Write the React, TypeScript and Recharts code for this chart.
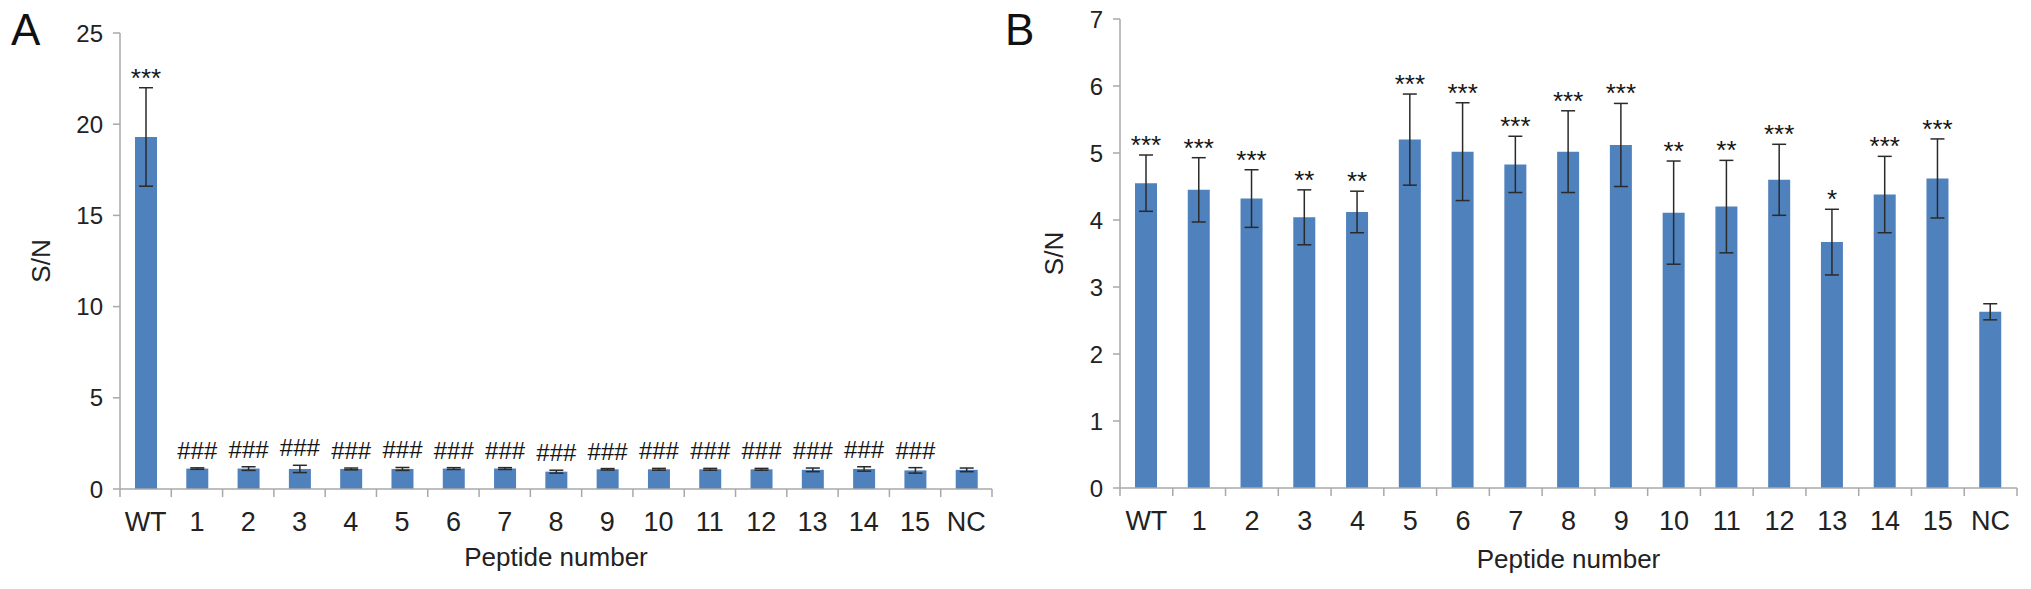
import React from 'react';
import { BarChart, Bar, XAxis, YAxis, ErrorBar, LabelList, Label } from 'recharts';

// ---------- data ----------
const categories = ['WT', '1', '2', '3', '4', '5', '6', '7', '8', '9', '10', '11', '12', '13', '14', '15', 'NC'];

const aMeans = [19.3, 1.12, 1.12, 1.1, 1.1, 1.1, 1.12, 1.12, 0.95, 1.08, 1.08, 1.08, 1.08, 1.05, 1.1, 1.02, 1.05];
const aErrors = [2.7, 0.04, 0.1, 0.2, 0.05, 0.08, 0.05, 0.05, 0.08, 0.04, 0.05, 0.05, 0.05, 0.1, 0.12, 0.15, 0.1];
const aMarks = ['***', '###', '###', '###', '###', '###', '###', '###', '###', '###', '###', '###', '###', '###', '###', '###', ''];
const aTicks = [0, 5, 10, 15, 20, 25];

const bMeans = [4.55, 4.45, 4.32, 4.04, 4.12, 5.2, 5.02, 4.83, 5.02, 5.12, 4.11, 4.2, 4.6, 3.67, 4.38, 4.62, 2.63];
const bErrors = [0.42, 0.48, 0.43, 0.41, 0.31, 0.68, 0.73, 0.42, 0.61, 0.62, 0.77, 0.69, 0.53, 0.49, 0.57, 0.59, 0.12];
const bMarks = ['***', '***', '***', '**', '**', '***', '***', '***', '***', '***', '**', '**', '***', '*', '***', '***', ''];
const bTicks = [0, 1, 2, 3, 4, 5, 6, 7];

const xTitle = 'Peptide number';
const yTitle = 'S/N';

// ---------- styles ----------
const FONT = '"Liberation Sans", Arial, Helvetica, sans-serif';
const BAR_COLOR = '#4f81bd';
const AXIS_COLOR = '#a8a8a8';
const TEXT_COLOR = '#222222';
const ERR_COLOR = '#2a2a2a';
const H = 589;

type Row = { name: string; mean: number; err: number; mark: string };

function buildRows(means: number[], errs: number[], marks: string[]): Row[] {
  return categories.map((c, i) => ({ name: c, mean: means[i], err: errs[i], mark: marks[i] }));
}

type PanelProps = {
  left: number;
  width: number;
  rows: Row[];
  ticks: number[];
  yMax: number;
  marginTop: number;
  marginRight: number;
  xAxisHeight: number;
  titleX: number;
  xTitleDy: number;
};

function Panel(p: PanelProps) {
  const yAxisWidth = 120;
  const plotW = p.width - yAxisWidth - p.marginRight;
  const bw = plotW / categories.length;
  const axisY = H - p.xAxisHeight;
  const n = categories.length;

  const renderTick = (t: any) => {
    const { x, payload, index } = t;
    return (
      <g key={`t-${index}`}>
        <line x1={x - bw / 2} x2={x - bw / 2} y1={axisY} y2={axisY + 8} stroke={AXIS_COLOR} strokeWidth={1.5} />
        {index === n - 1 && (
          <line x1={x + bw / 2} x2={x + bw / 2} y1={axisY} y2={axisY + 8} stroke={AXIS_COLOR} strokeWidth={1.5} />
        )}
        <text x={x} y={axisY + 23} dy="0.72em" textAnchor="middle" fontSize={27} fontFamily={FONT} fill={TEXT_COLOR}>
          {payload.value}
        </text>
      </g>
    );
  };

  const renderMark = (lp: any) => {
    const { x, y, width, value } = lp;
    if (!value) return null;
    const isStar = String(value).indexOf('*') >= 0;
    const cx = Number(x) + Number(width) / 2;
    const ty = isStar ? Number(y) - 1 : Number(y) - 9;
    return (
      <text x={cx} y={ty} textAnchor="middle" fontSize={isStar ? 26 : 24} fontFamily={FONT} fill="#151515">
        {value}
      </text>
    );
  };

  return (
    <div style={{ position: 'absolute', left: p.left, top: 0, width: p.width, height: H }}>
      <BarChart
        width={p.width}
        height={H}
        data={p.rows}
        margin={{ top: p.marginTop, right: p.marginRight, bottom: 0, left: 0 }}
        barCategoryGap={0}
      >
        <XAxis
          dataKey="name"
          type="category"
          interval={0}
          height={p.xAxisHeight}
          axisLine={{ stroke: AXIS_COLOR, strokeWidth: 1.5 }}
          tickLine={false}
          tick={renderTick}
        >
          <Label
            content={(lp: any) => {
              const vb = lp.viewBox || {};
              return (
                <text
                  x={vb.x + vb.width / 2}
                  y={vb.y + p.xTitleDy}
                  textAnchor="middle"
                  fontSize={26}
                  fontFamily={FONT}
                  fill={TEXT_COLOR}
                >
                  {xTitle}
                </text>
              );
            }}
          />
        </XAxis>
        <YAxis
          type="number"
          domain={[0, p.yMax]}
          ticks={p.ticks}
          interval={0}
          width={yAxisWidth}
          allowDataOverflow
          axisLine={{ stroke: AXIS_COLOR, strokeWidth: 1.5 }}
          tickLine={{ stroke: AXIS_COLOR, strokeWidth: 1.5 }}
          tickSize={7}
          tickMargin={10}
          tick={{ fontSize: 24, fill: TEXT_COLOR, fontFamily: FONT }}
        >
          <Label
            content={(lp: any) => {
              const vb = lp.viewBox || {};
              const cx = vb.x + p.titleX;
              const cy = vb.y + vb.height / 2;
              return (
                <text
                  x={cx}
                  y={cy}
                  dy="0.36em"
                  transform={`rotate(-90, ${cx}, ${cy})`}
                  textAnchor="middle"
                  fontSize={26}
                  fontFamily={FONT}
                  fill={TEXT_COLOR}
                >
                  {yTitle}
                </text>
              );
            }}
          />
        </YAxis>
        <Bar dataKey="mean" stackId="s" fill={BAR_COLOR} barSize={22} isAnimationActive={false}>
          <ErrorBar dataKey="err" width={7} stroke={ERR_COLOR} strokeWidth={1.5} isAnimationActive={false} />
        </Bar>
        <Bar dataKey="err" stackId="s" fill="transparent" barSize={22} isAnimationActive={false}>
          <LabelList dataKey="mark" content={renderMark} />
        </Bar>
      </BarChart>
    </div>
  );
}

export default function App() {
  const rowsA = buildRows(aMeans, aErrors, aMarks);
  const rowsB = buildRows(bMeans, bErrors, bMarks);
  return (
    <div style={{ position: 'absolute', left: 0, top: 0, width: 2031, height: H, background: '#fff', overflow: 'hidden' }}>
      <Panel
        left={0}
        width={1000}
        rows={rowsA}
        ticks={aTicks}
        yMax={25}
        marginTop={33}
        marginRight={8}
        xAxisHeight={100}
        titleX={41}
        xTitleDy={77}
      />
      <Panel
        left={1000}
        width={1031}
        rows={rowsB}
        ticks={bTicks}
        yMax={7}
        marginTop={19}
        marginRight={14}
        xAxisHeight={101}
        titleX={54}
        xTitleDy={80}
      />
      <svg width={2031} height={H} style={{ position: 'absolute', left: 0, top: 0, pointerEvents: 'none' }}>
        <text x={11} y={45} fontSize={44} fontFamily={FONT} fill="#111">A</text>
        <text x={1005} y={45} fontSize={44} fontFamily={FONT} fill="#111">B</text>
      </svg>
    </div>
  );
}
